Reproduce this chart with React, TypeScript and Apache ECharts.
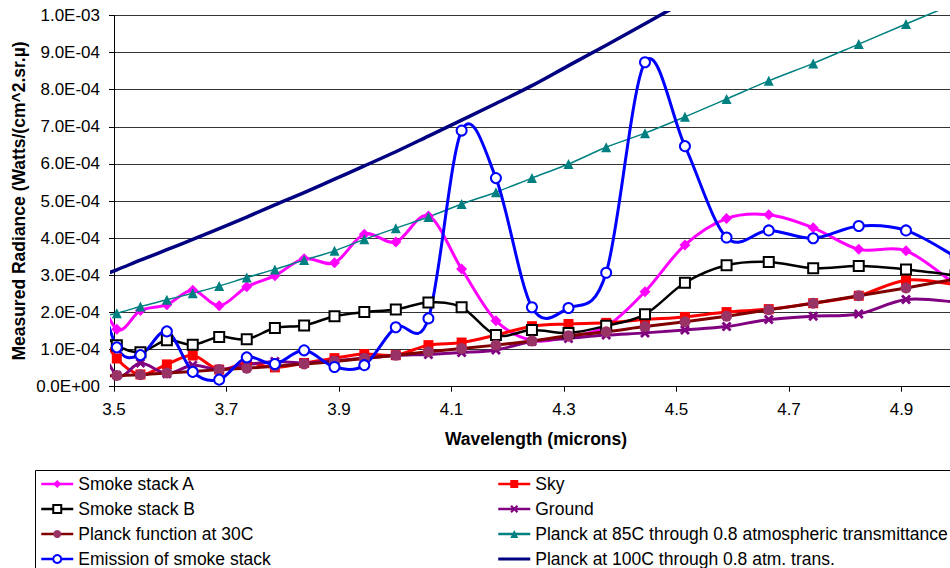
import React, { useEffect, useRef } from "react";
import * as echarts from "echarts";

// Wavelength samples (microns); the first one lies just left of the axis start
const wavelengths = [3.461, 3.505, 3.547, 3.594, 3.640, 3.687, 3.736, 3.786, 3.838, 3.892, 3.945, 4.001, 4.059, 4.118, 4.179, 4.243, 4.308, 4.375, 4.444, 4.515, 4.589, 4.664, 4.743, 4.824, 4.908, 4.996];

// Radiance values in units of 1e-4 W/(cm^2.sr.µ)
const smokeStackA = [2.9, 1.55, 2.05, 2.21, 2.60, 2.18, 2.69, 2.99, 3.45, 3.34, 4.11, 3.90, 4.60, 3.17, 1.78, 1.25, 1.35, 1.62, 2.56, 3.82, 4.53, 4.63, 4.28, 3.70, 3.66, 2.75];
const sky = [1.8, 0.76, 0.33, 0.60, 0.84, 0.46, 0.64, 0.52, 0.64, 0.77, 0.88, 0.85, 1.12, 1.19, 1.39, 1.63, 1.69, 1.72, 1.81, 1.88, 2.01, 2.09, 2.25, 2.45, 2.87, 2.75];
const smokeStackB = [1.7, 1.12, 0.93, 1.25, 1.13, 1.34, 1.28, 1.58, 1.65, 1.90, 2.01, 2.08, 2.27, 2.14, 1.39, 1.53, 1.45, 1.64, 1.95, 2.80, 3.27, 3.36, 3.19, 3.25, 3.16, 3.0];
const ground = [1.6, 0.31, 0.64, 0.35, 0.58, 0.46, 0.59, 0.68, 0.64, 0.70, 0.77, 0.84, 0.87, 0.92, 0.99, 1.22, 1.30, 1.39, 1.45, 1.53, 1.62, 1.81, 1.90, 1.96, 2.35, 2.28];
const planck30C = [0.27, 0.30, 0.32, 0.37, 0.41, 0.46, 0.50, 0.55, 0.61, 0.68, 0.76, 0.85, 0.94, 1.03, 1.12, 1.23, 1.37, 1.48, 1.62, 1.75, 1.90, 2.07, 2.25, 2.45, 2.66, 2.90];
const planck85C = [1.83, 1.98, 2.16, 2.34, 2.52, 2.71, 2.94, 3.16, 3.41, 3.66, 3.97, 4.27, 4.57, 4.92, 5.24, 5.62, 6.00, 6.45, 6.83, 7.27, 7.75, 8.24, 8.71, 9.23, 9.77, 10.33];
const emission = [3.2, 1.06, 0.85, 1.49, 0.40, 0.19, 0.79, 0.61, 0.98, 0.53, 0.58, 1.60, 1.84, 6.90, 5.62, 2.14, 2.12, 3.07, 8.74, 6.48, 4.02, 4.21, 4.00, 4.33, 4.21, 3.50];
const planck100C = [2.90, 3.15, 3.41, 3.69, 3.97, 4.26, 4.57, 4.90, 5.23, 5.59, 5.95, 6.33, 6.75, 7.18, 7.63, 8.11, 8.65, 9.20, 9.78, 10.38, 11.0, 11.6, 12.3, 13.0, 13.7, 14.5];

const xTickValues = [3.5, 3.7, 3.9, 4.1, 4.3, 4.5, 4.7, 4.9];

const leftLegend = ["Smoke stack A", "Smoke stack B", "Planck function at 30C", "Emission of smoke stack"];
const rightLegend = ["Sky", "Ground", "Planck at 85C through 0.8 atmospheric transmittance", "Planck at 100C through 0.8 atm. trans."];

const FONT = '"Liberation Sans", Arial, Helvetica, sans-serif';
const X_MARK = "path://M2,0 L5,3 L8,0 L10,2 L7,5 L10,8 L8,10 L5,7 L2,10 L0,8 L3,5 L0,2 Z";
const PLAIN_LINE_ICON = "path://M0,0 h0.01 v0.01 h-0.01 Z M0,3.5 H32 V6.5 H0 Z M31.99,9.99 h0.01 v0.01 h-0.01 Z";

// Plot geometry (pixels): visible axes, and a slightly larger clip area like the original
const PLOT_LEFT = 114;
const PLOT_TOP = 15.5;
const PLOT_BOTTOM = 386.7;
const PLOT_RIGHT = 957.75;
const X_MIN = 3.5;
const X_MAX = 5.0;
const Y_MAX = 10;
const CLIP_PAD_LEFT = 4;
const CLIP_PAD_TOP = 4.5;

type SeriesDef = {
  name: string;
  values: number[];
  color: string;
  markerColor?: string;
  width: number;
  symbol: string;
  symbolSize: number;
  empty?: boolean;
};

const seriesDefs: SeriesDef[] = [
  { name: "Smoke stack A", values: smokeStackA, color: "#FF00FF", width: 3, symbol: "diamond", symbolSize: 11 },
  { name: "Sky", values: sky, color: "#FF0000", width: 3, symbol: "rect", symbolSize: 10 },
  { name: "Smoke stack B", values: smokeStackB, color: "#000000", width: 2.5, symbol: "emptyRect", symbolSize: 10, empty: true },
  { name: "Ground", values: ground, color: "#800080", width: 3, symbol: X_MARK, symbolSize: 10 },
  { name: "Planck function at 30C", values: planck30C, color: "#800000", markerColor: "#993366", width: 3, symbol: "circle", symbolSize: 11 },
  { name: "Planck at 85C through 0.8 atmospheric transmittance", values: planck85C, color: "#008080", width: 1.5, symbol: "triangle", symbolSize: 10 },
  { name: "Emission of smoke stack", values: emission, color: "#0000FF", width: 3, symbol: "emptyCircle", symbolSize: 10, empty: true },
  { name: "Planck at 100C through 0.8 atm. trans.", values: planck100C, color: "#000080", width: 3.5, symbol: "none", symbolSize: 0 },
];

function sciLabel(v: number): string {
  const val = v * 1e-4;
  const [m, e] = val.toExponential(1).split("e");
  const sign = e.startsWith("-") ? "-" : "+";
  const digits = e.replace(/^[+-]/, "").padStart(2, "0");
  return `${m}E${sign}${digits}`;
}

function pairs(values: number[]) {
  return wavelengths.map((w, i) => [w, values[i]]);
}

// Smooth curve through the data points (Catmull-Rom style, as spreadsheet "smoothed line")
function smoothPath(pts: number[][]): string {
  let d = `M${pts[0][0]},${pts[0][1]}`;
  for (let i = 0; i < pts.length - 1; i++) {
    const p0 = pts[i - 1] || pts[i];
    const p1 = pts[i];
    const p2 = pts[i + 1];
    const p3 = pts[i + 2] || p2;
    const c1x = p1[0] + (p2[0] - p0[0]) / 6;
    const c1y = p1[1] + (p2[1] - p0[1]) / 6;
    const c2x = p2[0] - (p3[0] - p1[0]) / 6;
    const c2y = p2[1] - (p3[1] - p1[1]) / 6;
    d += ` C${c1x},${c1y} ${c2x},${c2y} ${p2[0]},${p2[1]}`;
  }
  return d;
}

export default function App() {
  const ref = useRef<HTMLDivElement>(null);

  useEffect(() => {
    if (!ref.current) return;
    const chart = echarts.init(ref.current, undefined, { renderer: "svg" });

    const pxPerX = (PLOT_RIGHT - PLOT_LEFT) / (X_MAX - X_MIN);
    const pxPerY = (PLOT_BOTTOM - PLOT_TOP) / Y_MAX;

    const series: any[] = [];
    seriesDefs.forEach((s, idx) => {
      // the smoothed line
      series.push({
        type: "custom",
        name: `${s.name} (curve)`,
        xAxisIndex: 1,
        yAxisIndex: 1,
        clip: true,
        z: 2,
        silent: true,
        encode: { x: 0, y: 1 },
        data: pairs(s.values),
        renderItem: (params: any, api: any) => {
          if (params.dataIndex !== 0) return null;
          const pts = s.values.map((v, i) => api.coord([wavelengths[i], v]));
          return {
            type: "path",
            shape: { pathData: smoothPath(pts) },
            style: { fill: "none", stroke: s.color, lineWidth: s.width, lineJoin: "round" },
          };
        },
      });
      // the markers (and the legend entry)
      series.push({
        type: "line",
        name: s.name,
        xAxisIndex: 1,
        yAxisIndex: 1,
        clip: true,
        z: 3 + idx * 0.01,
        data: pairs(s.values),
        symbol: s.symbol,
        symbolSize: s.symbolSize,
        showSymbol: s.symbol !== "none",
        lineStyle: { color: s.color, width: s.width, opacity: 0 },
        itemStyle: s.empty
          ? { color: s.color, borderColor: s.color, borderWidth: 1.5 }
          : { color: s.markerColor || s.color },
      });
    });

    const legendData = (names: string[]) =>
      names.map((n) => {
        const def = seriesDefs.find((d) => d.name === n)!;
        return def.symbol === "none" ? { name: n, icon: PLAIN_LINE_ICON } : { name: n };
      });

    const legendBase = {
      orient: "vertical",
      top: 475,
      padding: 0,
      itemWidth: 32,
      itemHeight: 10,
      itemGap: 7,
      lineStyle: { opacity: 1, width: 2.5 },
      textStyle: { fontSize: 17.5, lineHeight: 18, color: "#000", fontFamily: FONT },
    };

    chart.setOption({
      animation: false,
      backgroundColor: "#fff",
      textStyle: { fontFamily: FONT },
      grid: [
        { left: PLOT_LEFT, top: PLOT_TOP, width: PLOT_RIGHT - PLOT_LEFT, height: PLOT_BOTTOM - PLOT_TOP },
        {
          left: PLOT_LEFT - CLIP_PAD_LEFT,
          top: PLOT_TOP - CLIP_PAD_TOP,
          width: PLOT_RIGHT - PLOT_LEFT + CLIP_PAD_LEFT,
          height: PLOT_BOTTOM - PLOT_TOP + CLIP_PAD_TOP,
        },
      ],
      xAxis: [
        {
          type: "value",
          gridIndex: 0,
          min: X_MIN,
          max: X_MAX,
          axisLine: { show: true, lineStyle: { color: "#000", width: 1 } },
          axisTick: { show: true, length: 5, lineStyle: { color: "#000" }, customValues: xTickValues },
          axisLabel: {
            color: "#000",
            fontSize: 17,
            fontFamily: FONT,
            margin: 14,
            customValues: xTickValues,
            formatter: (v: number) => v.toFixed(1),
          },
          splitLine: { show: false },
        },
        {
          type: "value",
          gridIndex: 1,
          show: false,
          min: X_MIN - CLIP_PAD_LEFT / pxPerX,
          max: X_MAX,
          splitLine: { show: false },
        },
      ],
      yAxis: [
        {
          type: "value",
          gridIndex: 0,
          min: 0,
          max: Y_MAX,
          interval: 1,
          axisLine: { show: true, lineStyle: { color: "#000", width: 1 } },
          axisTick: { show: true, length: 5, lineStyle: { color: "#000" } },
          axisLabel: { color: "#000", fontSize: 17, fontFamily: FONT, margin: 14, formatter: sciLabel },
          splitLine: { show: true, lineStyle: { color: "#333", width: 1 } },
        },
        {
          type: "value",
          gridIndex: 1,
          show: false,
          min: 0,
          max: Y_MAX + CLIP_PAD_TOP / pxPerY,
          splitLine: { show: false },
        },
      ],
      legend: [
        { ...legendBase, left: 40, data: legendData(leftLegend) },
        { ...legendBase, left: 497, data: legendData(rightLegend) },
      ],
      graphic: [
        {
          type: "rect",
          shape: { x: 35.5, y: 470.5, width: 1100, height: 200 },
          style: { fill: "none", stroke: "#000", lineWidth: 1 },
          silent: true,
        },
        {
          type: "text",
          x: 536,
          y: 439,
          style: {
            text: "Wavelength (microns)",
            font: `bold 17.5px ${FONT}`,
            align: "center",
            verticalAlign: "middle",
            fill: "#000",
          },
        },
        {
          type: "text",
          x: 18.5,
          y: 201,
          rotation: Math.PI / 2,
          style: {
            text: "Measured Radiance (Watts/(cm^2.sr.µ)",
            font: `bold 17.5px ${FONT}`,
            align: "center",
            verticalAlign: "middle",
            fill: "#000",
          },
        },
      ],
      series,
    });

    return () => chart.dispose();
  }, []);

  return (
    <div style={{ position: "fixed", left: 0, top: 0, width: 950, height: 568, overflow: "hidden", background: "#fff" }}>
      <div ref={ref} style={{ width: 1000, height: 620 }} />
    </div>
  );
}
